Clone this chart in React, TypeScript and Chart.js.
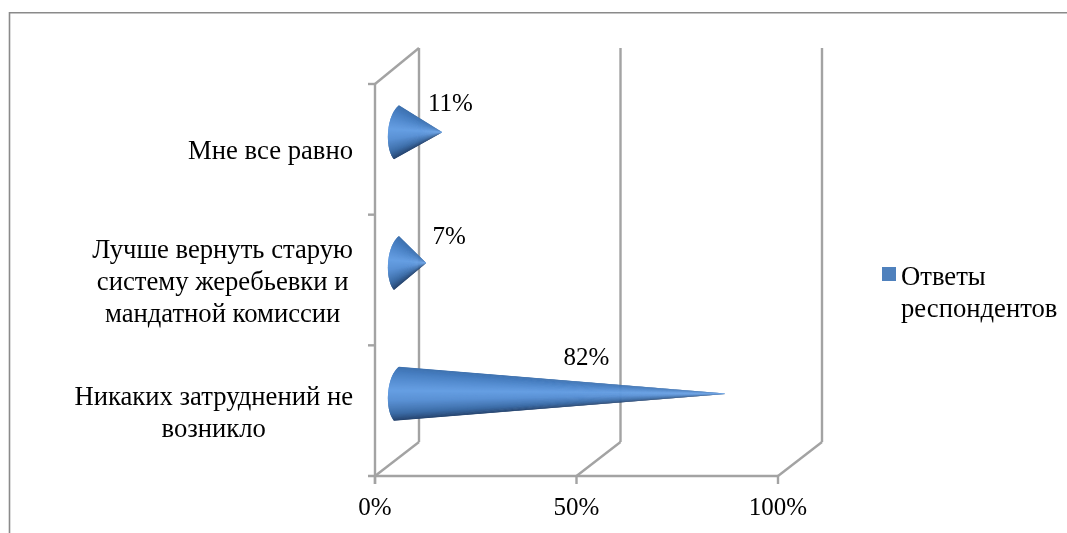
import React, { useEffect, useRef } from "react";
import { Chart, registerables } from "chart.js";

Chart.register(...registerables);

const categories = [
  ["Мне все равно"],
  ["Лучше вернуть старую", "систему жеребьевки и", "мандатной комиссии"],
  ["Никаких затруднений не", "возникло"],
];
const values = [11, 7, 82];
const seriesName = "Ответы респондентов";
const legendLines = ["Ответы", "респондентов"];
const axisTicks = [0, 50, 100];

const FONT = '"Liberation Serif", serif';
const FONT_SIZE = 26.67;
const NUM_SIZE = 25;
const WALL = "#a3a3a3";
const FRAME = "#8a8a8a";
const DX = 44;
const DY = 36;
// label offset from each cone tip (layout only)
const labelShift = [
  [8, -28],
  [23, -26],
  [-142, -35],
];

const palette: [number, number[]][] = [
  [0, [62, 112, 172]],
  [0.15, [70, 125, 192]],
  [0.45, [101, 158, 226]],
  [0.6, [90, 145, 212]],
  [0.82, [60, 108, 166]],
  [0.95, [42, 76, 122]],
  [1, [36, 64, 104]],
];
function shade(t: number) {
  for (let i = 1; i < palette.length; i++) {
    if (t <= palette[i][0]) {
      const [a, ca] = palette[i - 1];
      const [b, cb] = palette[i];
      const k = (t - a) / (b - a);
      const c = ca.map((v, j) => Math.round(v + (cb[j] - v) * k));
      return `rgb(${c[0]},${c[1]},${c[2]})`;
    }
  }
  return "rgb(36,64,104)";
}

function bez(t: number, p0: number, p1: number, p2: number, p3: number) {
  const u = 1 - t;
  return u * u * u * p0 + 3 * u * u * t * p1 + 3 * u * t * t * p2 + t * t * t * p3;
}

const scene = {
  id: "scene",
  beforeDraw(chart: any) {
    const { ctx } = chart;
    // frame
    ctx.save();
    ctx.strokeStyle = FRAME;
    ctx.lineWidth = 1.6;
    ctx.beginPath();
    ctx.moveTo(9.5, 533);
    ctx.lineTo(9.5, 12.7);
    ctx.lineTo(1067, 12.7);
    ctx.stroke();
    // centre each multi-line category label on its own block
    const y = chart.scales.y;
    ctx.font = `${FONT_SIZE}px ${FONT}`;
    y.getLabelItems().forEach((item: any) => {
      const lines = Array.isArray(item.label) ? item.label : [item.label];
      const w = Math.max(...lines.map((l: string) => ctx.measureText(l).width));
      item.options.textAlign = "center";
      item.options.translation[0] = y.right - 22 - w / 2;
      if (!item.shifted) {
        item.options.translation[1] += 3;
        item.shifted = true;
      }
    });
    ctx.restore();
  },
  beforeDatasetsDraw(chart: any) {
    const { ctx, chartArea: a, scales } = chart;
    const { x } = scales;
    ctx.save();
    ctx.strokeStyle = WALL;
    ctx.lineWidth = 2.4;
    ctx.lineCap = "butt";
    const seg = (x0: number, y0: number, x1: number, y1: number) => {
      ctx.beginPath();
      ctx.moveTo(x0, y0);
      ctx.lineTo(x1, y1);
      ctx.stroke();
    };
    seg(a.left, a.top, a.left, a.bottom + 8);
    seg(a.left - 7, a.bottom, a.right, a.bottom);
    seg(a.left, a.top, a.left + DX, a.top - DY);
    axisTicks.forEach((t) => {
      const px = x.getPixelForValue(t);
      seg(px, a.bottom, px + DX, a.bottom - DY + 2);
      seg(px + DX, a.bottom - DY + 2, px + DX, a.top - DY);
      seg(px, a.bottom, px, a.bottom + 8);
    });
    const band = (a.bottom - a.top) / categories.length;
    for (let i = 0; i < categories.length; i++) {
      const py = a.top + band * i;
      seg(a.left - 7, py, a.left, py);
    }
    ctx.restore();
  },
  beforeDatasetDraw() {
    return false;
  },
  afterDatasetsDraw(chart: any) {
    const { ctx, scales } = chart;
    const x0 = scales.x.getPixelForValue(0);
    const bars = chart.getDatasetMeta(0).data;
    bars.forEach((bar: any, i: number) => {
      const cy = bar.y - 17;
      const half = bar.height / 2;
      const tipX = bar.x + 23;
      const ax = x0 + 24, ay = cy - half;
      const c1x = x0 + 11, c1y = cy - half * 0.62;
      const c2x = x0 + 9.5, c2y = cy + half * 0.6;
      const bx = x0 + 19, by = cy + half;
      const N = 54;
      const order = Array.from({ length: N }, (_, k) => k).sort(
        (p, q) => Math.abs((q + 0.5) / N - 0.45) - Math.abs((p + 0.5) / N - 0.45)
      );
      ctx.save();
      order.forEach((k) => {
        const t0 = Math.max(0, (k - 0.6) / N), t1 = Math.min(1, (k + 1.6) / N);
        ctx.fillStyle = shade((k + 0.5) / N);
        ctx.beginPath();
        ctx.moveTo(tipX, cy);
        ctx.lineTo(bez(t0, ax, c1x, c2x, bx), bez(t0, ay, c1y, c2y, by));
        ctx.lineTo(bez(t1, ax, c1x, c2x, bx), bez(t1, ay, c1y, c2y, by));
        ctx.closePath();
        ctx.fill();
      });
      ctx.restore();
      // value label
      ctx.save();
      ctx.fillStyle = "#000";
      ctx.font = `${NUM_SIZE}px ${FONT}`;
      ctx.textAlign = "center";
      ctx.textBaseline = "middle";
      ctx.fillText(`${values[i]}%`, tipX + labelShift[i][0], cy + labelShift[i][1]);
      ctx.restore();
    });
    // legend
    ctx.save();
    ctx.fillStyle = chart.data.datasets[0].backgroundColor;
    ctx.fillRect(882, 267, 14, 14);
    ctx.fillStyle = "#000";
    ctx.font = `${FONT_SIZE}px ${FONT}`;
    ctx.textAlign = "left";
    ctx.textBaseline = "middle";
    legendLines.forEach((line, i) => ctx.fillText(line, 901, 278 + i * 32));
    ctx.restore();
  },
};

export default function App() {
  const ref = useRef<HTMLCanvasElement>(null);
  useEffect(() => {
    const chart = new Chart(ref.current as HTMLCanvasElement, {
      type: "bar",
      plugins: [scene],
      data: {
        labels: categories,
        datasets: [
          {
            label: seriesName,
            data: values,
            backgroundColor: "#4f81bd",
            categoryPercentage: 0.413,
            barPercentage: 1,
          },
        ],
      },
      options: {
        indexAxis: "y",
        animation: false,
        responsive: false,
        layout: { padding: { left: 0, right: 289, top: 84, bottom: 0 } },
        plugins: { legend: { display: false }, tooltip: { enabled: false } },
        scales: {
          x: {
            type: "linear",
            min: 0,
            max: 100,
            afterBuildTicks: (s: any) => {
              s.ticks = axisTicks.map((value) => ({ value }));
            },
            afterFit: (s: any) => {
              s.height = 57;
            },
            grid: { display: false },
            border: { display: false },
            ticks: {
              color: "#000",
              padding: 9,
              maxRotation: 0,
              font: { family: FONT, size: NUM_SIZE },
              callback: (v: any) => `${v}%`,
            },
          },
          y: {
            afterFit: (s: any) => {
              s.width = 375;
            },
            grid: { display: false },
            border: { display: false },
            ticks: {
              color: "#000",
              padding: 22,
              autoSkip: false,
              font: { family: FONT, size: FONT_SIZE, lineHeight: 1.2 },
            },
          },
        },
      },
    } as any);
    return () => chart.destroy();
  }, []);
  return (
    <div style={{ position: "fixed", left: 0, top: 0, width: 1067, height: 533, background: "#fff" }}>
      <canvas ref={ref} width={1067} height={533} style={{ display: "block" }} />
    </div>
  );
}
